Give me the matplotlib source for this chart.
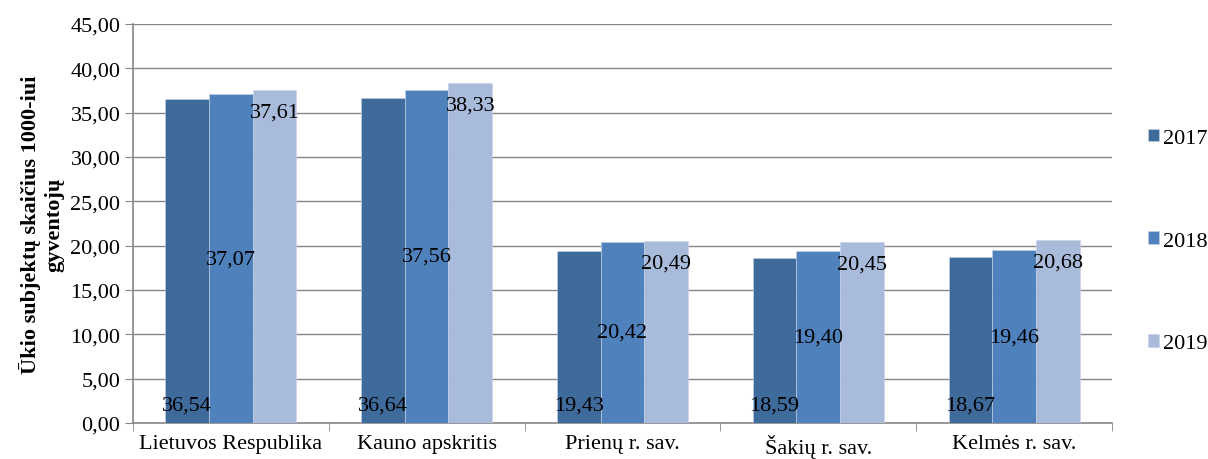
import matplotlib.pyplot as plt
import numpy as np

categories = ['Lietuvos Respublika', 'Kauno apskritis', 'Prienų r. sav.', 'Šakių r. sav.', 'Kelmės r. sav.']
years = ['2017', '2018', '2019']
v2017 = [36.54, 36.64, 19.43, 18.59, 18.67]
v2018 = [37.07, 37.56, 20.42, 19.40, 19.46]
v2019 = [37.61, 38.33, 20.49, 20.45, 20.68]
colors = ['#3F6A9C', '#4F81BD', '#A9BBDA']

plt.rcParams['font.family'] = ['Liberation Serif', 'DejaVu Serif']

fig = plt.figure(figsize=(12.08, 4.6), dpi=100)
ax = fig.add_axes([0.110, 0.0783, 0.8105, 0.8674])

x = np.arange(len(categories))
w = 0.223
series = [v2017, v2018, v2019]
for i, vals in enumerate(series):
    pos = x + (i - 1) * w
    ax.bar(pos, vals, width=w, color=colors[i], edgecolor='#C8D3E6', linewidth=0.4,
           label=years[i], zorder=3)
    for px, v in zip(pos, vals):
        s = f'{v:.2f}'.replace('.', ',')
        if i == 0:
            ax.annotate(s, (px, 0), xytext=(0, 10), textcoords='offset points',
                        ha='center', va='baseline', fontsize=16, zorder=4)
        elif i == 1:
            ax.annotate(s, (px, v / 2), ha='center', va='center', fontsize=16, zorder=4)
        else:
            ax.annotate(s, (px, v), xytext=(0, -16), textcoords='offset points',
                        ha='center', va='center', fontsize=16, zorder=4)

ax.set_xlim(-0.5, len(categories) - 0.5)
ax.set_ylim(0, 45)
ax.set_yticks(np.arange(0, 46, 5))
ax.set_yticklabels([f'{t:.2f}'.replace('.', ',') for t in np.arange(0, 46, 5)], fontsize=16)
ax.set_xticks(x)
ax.set_xticklabels(categories, fontsize=16)
ax.set_xticks(np.arange(-0.5, len(categories)), minor=True)
ax.tick_params(axis='x', which='major', length=0, pad=8)
ax.tick_params(axis='x', which='minor', length=6, color='#868686')
ax.tick_params(axis='y', length=6, color='#868686', pad=3)

ax.grid(axis='y', color='#868686', linewidth=1, zorder=0)
for sp in ['top', 'right']:
    ax.spines[sp].set_visible(False)
for sp in ['left', 'bottom']:
    ax.spines[sp].set_color('#868686')
    ax.spines[sp].set_linewidth(1.2)

ax.set_ylabel('Ūkio subjektų skaičius 1000-iui\ngyventojų', fontsize=16,
              fontweight='bold', linespacing=1.25, labelpad=4)

fig.legend(loc='center left', bbox_to_anchor=(0.950, 0.474), frameon=False,
           fontsize=16, labelspacing=3.75, handlelength=0.5, handleheight=0.5,
           handletextpad=0.2, borderaxespad=0, borderpad=0)

fig.savefig('out.png', dpi=100)
